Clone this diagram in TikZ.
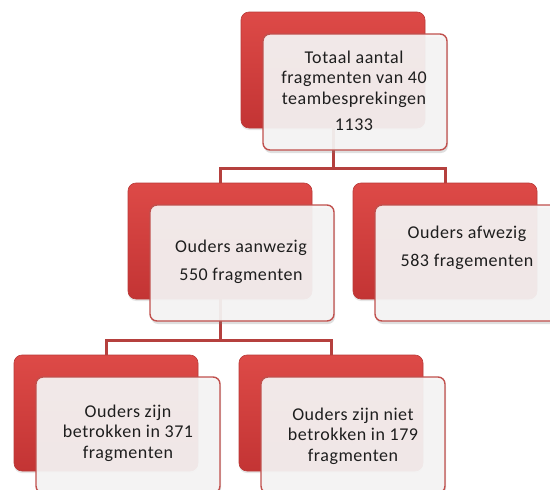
\documentclass[tikz,border=0pt]{standalone}
\usepackage{fontspec}
\setmainfont{Carlito}[LetterSpace=3]
\usetikzlibrary{shadows,calc}
\definecolor{redtop}{HTML}{DD4A47}
\definecolor{redbot}{HTML}{C33434}
\definecolor{redline}{HTML}{B93A38}
\definecolor{boxwhite}{HTML}{F6F5F5}
\definecolor{boxline}{HTML}{C0504D}
\definecolor{connred}{HTML}{B5403E}
\definecolor{textgray}{HTML}{1E1E1E}
\tikzset{
  redbox/.style={rounded corners=8pt, inner sep=0pt, outer sep=0pt,
    minimum width=184pt, minimum height=116pt, top color=redtop, bottom color=redbot,
    draw=redline, line width=0.6pt,
    drop shadow={opacity=0.2, shadow xshift=0pt, shadow yshift=-2pt}},
  whitebox/.style={rounded corners=7pt, inner sep=0pt, outer sep=0pt,
    minimum width=184pt, minimum height=116pt, fill=boxwhite, fill opacity=0.92,
    draw=boxline, line width=1.4pt,
    drop shadow={opacity=0.25, shadow xshift=1pt, shadow yshift=-3pt}},
  boxtext/.style={align=center, text=textgray, font=\fontsize{18}{20.5}\selectfont},
  conn/.style={draw=connred, line width=3pt}
}
\begin{document}
\begin{tikzpicture}[x=1pt,y=-1pt]
\useasboundingbox (0,0) rectangle (550,490);
% back boxes
\node[redbox] (rt)  at (333,70) {};
\node[redbox] (rml) at (220,241) {};
\node[redbox] (rmr) at (445,241) {};
\node[redbox] (rbl) at (106,413) {};
\node[redbox] (rbr) at (331,413) {};
% connectors
\coordinate (jt) at ($(rt.south)+(0,40)$);
\coordinate (jm) at ($(rml.south)+(0,41)$);
\draw[conn] (rt.south) -- (jt) -| (rml.north);
\draw[conn] (jt) -| (rmr.north);
\draw[conn] (rml.south) -- (jm) -| (rbl.north);
\draw[conn] (jm) -| (rbr.north);
% front boxes
\node[whitebox] (wt)  at (355,92) {};
\node[whitebox] (wml) at (242,263) {};
\node[whitebox] (wmr) at (467,263) {};
\node[whitebox] (wbl) at (128,435) {};
\node[whitebox] (wbr) at (353,435) {};
% texts
\node[boxtext] (tt)  at (354,91) {Totaal aantal\\fragmenten van 40\\teambesprekingen\\[6pt]1133};
\node[boxtext] (tml) at (241,262) {Ouders aanwezig\\[7pt]550 fragmenten};
\node[boxtext] (tmr) at (467,248) {Ouders afwezig\\[7pt]583 fragementen};
\node[boxtext] (tbl) at (128,433) {Ouders zijn\\betrokken in 371\\fragmenten};
\node[boxtext] (tbr) at (353,436) {Ouders zijn niet\\betrokken in 179\\fragmenten};
\end{tikzpicture}
\end{document}
